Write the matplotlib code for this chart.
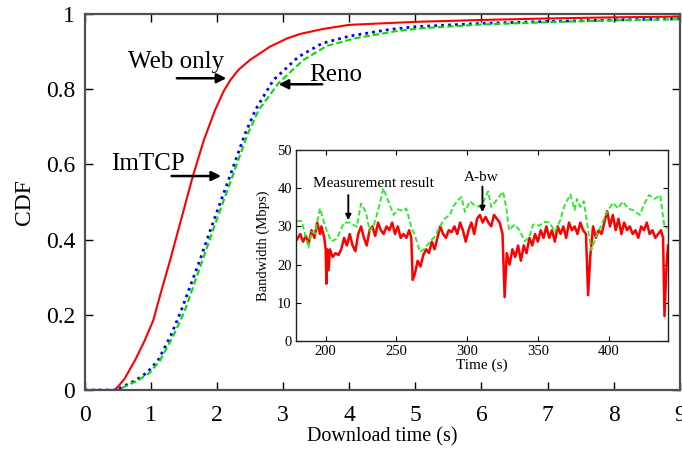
import matplotlib
matplotlib.use("Agg")
import matplotlib.pyplot as plt

plt.rcParams['font.family'] = ['Liberation Serif', 'DejaVu Serif']

# --- main CDF curves (download time in s, CDF) ---
web_t = [0, 0.45, 0.5, 0.6, 0.76, 0.9, 1.035, 1.15, 1.29, 1.45, 1.63, 1.80, 1.97, 2.1, 2.2,
         2.32, 2.5, 2.8, 3.06, 3.26, 3.6, 4.0, 4.5, 5, 6, 7, 8, 9]
web_cdf = [0, 0, 0.009, 0.03, 0.08, 0.13, 0.186, 0.26, 0.346, 0.45, 0.567, 0.665, 0.745, 0.795, 0.824,
           0.851, 0.878, 0.913, 0.935, 0.947, 0.96, 0.971, 0.975, 0.979, 0.984, 0.988, 0.991, 0.993]

imtcp_t = [0, 0.5, 0.53, 0.78, 0.95, 1.11, 1.3, 1.46, 1.74, 1.97, 2.19, 2.42, 2.58, 2.85, 3.23,
           3.59, 4.0, 4.62, 5, 6, 7, 8, 9]
imtcp_cdf = [0, 0, 0.005, 0.027, 0.048, 0.08, 0.145, 0.213, 0.346, 0.461, 0.567, 0.68, 0.745, 0.824,
             0.886, 0.922, 0.941, 0.959, 0.966, 0.975, 0.98, 0.984, 0.987]

reno_t = [0, 0.5, 0.55, 0.8, 0.98, 1.14, 1.34, 1.515, 1.78, 2.01, 2.23, 2.46, 2.63, 2.93, 3.30,
          3.66, 4.08, 4.7, 5.1, 6, 7, 8, 9]
reno_cdf = [0, 0, 0.005, 0.025, 0.046, 0.08, 0.145, 0.213, 0.346, 0.461, 0.567, 0.68, 0.745, 0.816,
            0.877, 0.915, 0.935, 0.954, 0.962, 0.972, 0.978, 0.983, 0.986]

# --- inset: bandwidth over time ---
meas_t = [179.5, 182, 184, 186, 188, 190, 192, 194, 196, 197, 199, 200, 200.5, 201, 202, 203, 205,
          207, 209, 211, 213, 215, 217, 219, 221, 223, 225, 227, 229, 231, 233, 235, 237, 239, 241,
          243, 245, 247, 249, 251, 253, 255, 257, 259, 260.5, 261.5, 263, 265, 267, 269, 271, 273,
          275, 277, 279, 281, 283, 285, 287, 289, 291, 293, 295, 297, 299, 301, 303, 305, 307, 309,
          311, 313, 315, 317, 319, 321, 323, 325, 326.5, 328, 330, 332, 334, 336, 338, 340, 342,
          344, 346, 348, 350, 352, 354, 356, 358, 360, 362, 364, 366, 368, 370, 372, 374, 376, 378,
          380, 382, 384, 385.5, 387, 389, 391, 393, 395, 397, 399, 401, 403, 405, 407, 409, 411,
          413, 415, 417, 419, 421, 423, 425, 427, 429, 431, 433, 435, 437, 438.5, 439.5, 441, 442]
meas_bw = [26.5, 28, 26, 27.5, 25.5, 29, 27, 31, 28, 30, 27, 24, 15, 24, 18.5, 24, 22,
           23, 22.5, 24, 27, 25, 28, 25, 23.5, 28, 30, 27, 25, 29, 30, 27.5, 31, 29, 28,
           30, 29, 31, 28, 30, 27, 28, 27, 29, 27, 16, 17.5, 21, 19.5, 22.5, 24, 23,
           26, 24, 27, 30, 28, 27, 29, 28.5, 30, 28, 31, 29, 26, 29, 31, 28, 32, 33,
           31, 32.5, 31, 30, 33, 32, 31, 28, 11.5, 23, 20, 24, 22, 25, 21, 25, 23,
           27, 25, 28, 26, 29, 27, 30, 27, 29, 26, 30, 28, 30, 27, 31, 29, 30, 28,
           31, 29, 28, 12, 22, 30, 27, 29, 28, 31, 34, 30, 33, 29, 32, 28, 31,
           29, 30, 28, 29, 27, 30, 29, 31, 28, 29, 27, 28, 29, 27, 6.5, 20, 25]

abw_t = [179.5, 183, 187.8, 190, 192.5, 196, 199, 201, 204, 208, 210, 213, 217, 222, 225, 228.5,
         231, 234, 238, 240.7, 244, 248, 251, 255, 257, 260.7, 263, 266.6, 270, 273.6, 277, 280.7,
         284, 287.8, 290, 293.6, 296, 298.4, 302, 305, 309, 311, 314.8, 317, 320, 325.4, 327.8,
         329.6, 333.6, 337, 340.7, 344, 346.6, 351, 354.8, 358.4, 362, 365.4, 369, 373, 376,
         377.6, 380, 382.4, 385.4, 387.8, 391, 394.8, 398, 403, 406.6, 410, 413.6, 417, 422,
         425.4, 428.5, 432.5, 436.5, 439.5, 441.4]
abw_bw = [31.4, 31.4, 24.4, 28.6, 28.1, 34.7, 30.8, 28.6, 26.1, 26.8, 28.6, 31, 31, 29.9, 36, 33.7,
          28.8, 30.2, 35.6, 40, 36.9, 33, 34.5, 34, 34.7, 29.5, 27.7, 23.3, 24.2, 26, 27.3, 29.9,
          32, 33, 35.1, 36.9, 37.7, 33.8, 36.6, 35.6, 35.1, 36, 39.2, 35.1, 36.5, 39.1, 34.5,
          29, 30.5, 29, 26.1, 27.3, 30.5, 30.2, 31.2, 31, 28.6, 31.2, 35.6, 38.4, 34.3,
          37.2, 35.1, 36.6, 29.5, 23.8, 27.3, 30.3, 33.1, 36.2, 34.7, 36.5, 34.7, 34.3, 33,
          36, 38.2, 37.2, 38.2, 29.9, 29.5]

fig = plt.figure(figsize=(6.82, 4.5), dpi=100)
ax = fig.add_axes([0.1246, 0.1333, 0.872, 0.8357])

ax.plot(web_t, web_cdf, color='#ff0000', lw=1.5)
ax.plot(imtcp_t, imtcp_cdf, color='#0000ff', lw=2.0, linestyle=(0, (1, 1.5)))
ax.plot(reno_t, reno_cdf, color='#00dd00', lw=1.5, linestyle=(0, (3, 1.5)))

ax.set_xlim(0, 9)
ax.set_ylim(0, 1)
ax.set_xticks(range(10))
ax.set_yticks([0, 0.2, 0.4, 0.6, 0.8, 1])
ax.set_yticklabels(['0', '0.2', '0.4', '0.6', '0.8', '1'])
ax.tick_params(direction='in', length=6, width=1, labelsize=17, top=True, right=True, pad=7)
ax.tick_params(axis='x', pad=11)
ax.set_xlabel('Download time (s)', fontsize=14.5, labelpad=1)
ax.set_ylabel('CDF', fontsize=17, labelpad=8)
for s in ax.spines.values():
    s.set_color('#505050')
    s.set_linewidth(1.6)

arrow = dict(arrowstyle='-|>', color='k', lw=1.8, mutation_scale=14, shrinkA=0, shrinkB=0)
ax.text(1.38, 0.873, 'Web only', fontsize=18, ha='center', va='center')
ax.annotate('', xy=(2.14, 0.829), xytext=(1.39, 0.829), arrowprops=arrow)
ax.text(3.80, 0.838, 'Reno', fontsize=18, ha='center', va='center')
ax.annotate('', xy=(2.93, 0.813), xytext=(3.59, 0.813), arrowprops=arrow)
ax.text(0.947, 0.601, 'ImTCP', fontsize=18, ha='center', va='center')
ax.annotate('', xy=(2.06, 0.569), xytext=(1.31, 0.569), arrowprops=arrow)

# inset
ins = fig.add_axes([0.434, 0.2422, 0.5455, 0.4245])
ins.plot(meas_t, meas_bw, color='#ff0000', lw=1.8)
ins.plot(abw_t, abw_bw, color='#22ee22', lw=1.3, linestyle=(0, (3, 1.5)))
ins.set_xlim(179, 442)
ins.set_ylim(0, 50)
ins.set_xticks([200, 250, 300, 350, 400])
ins.set_yticks([0, 10, 20, 30, 40, 50])
ins.tick_params(direction='in', length=3.5, width=0.8, labelsize=10.5, top=True, right=True, pad=3)
ins.set_xlabel('Time (s)', fontsize=11, labelpad=0)
ins.set_ylabel('Bandwidth (Mbps)', fontsize=10.5, labelpad=5)
for s in ins.spines.values():
    s.set_color('#222222')
    s.set_linewidth(1.0)

small_arrow = dict(arrowstyle='-|>', color='k', lw=1.4, mutation_scale=8, shrinkA=0, shrinkB=0)
ins.text(233.6, 41.1, 'Measurement result', fontsize=11, ha='center', va='center')
ins.annotate('', xy=(216, 31.6), xytext=(216, 38.2), arrowprops=small_arrow)
ins.text(310, 42.8, 'A-bw', fontsize=11, ha='center', va='center')
ins.annotate('', xy=(310.8, 33.7), xytext=(310.8, 40.4), arrowprops=small_arrow)

fig.savefig('out.png', dpi=100)
